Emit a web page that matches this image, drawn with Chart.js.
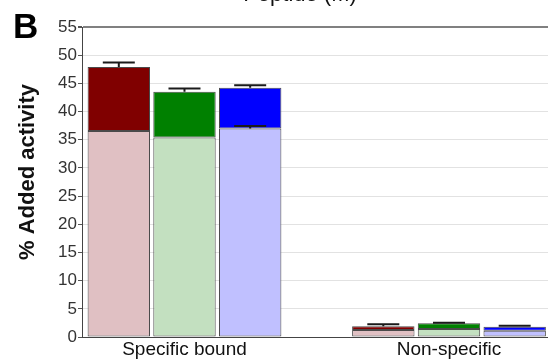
<!DOCTYPE html>
<html>
<head>
<meta charset="utf-8">
<script src="https://cdn.jsdelivr.net/npm/chart.js@4"></script>
<style>
  html, body { margin: 0; padding: 0; background: #fff; }
  #wrap { width: 548px; height: 359px; }
</style>
</head>
<body>
<div id="wrap"><canvas id="chart"></canvas></div>
<script>
// categories on the x axis, placed at positions 1 and 2
const categories = ['Specific bound', 'Non-specific'];
const xPositions = [1, 2];

// light (lower) part of each bar and full bar height, % added activity
const redLower   = [36.55, 1.24];
const redTotal   = [47.9, 1.9];
const greenLower = [35.4, 1.42];
const greenTotal = [43.5, 2.43];
const blueLower  = [37.0, 1.12];
const blueTotal  = [44.2, 1.83];

// top of the error bars (null = none shown)
const redErr        = [48.7, 2.25];
const greenErr      = [44.1, 2.55];
const blueErr       = [44.65, 2.0];
const blueLowerErr  = [37.45, null];

const yMin = 0, yMax = 55, yStep = 5;

const pts = vals => xPositions.map((x, i) => ({ x, y: vals[i] }));
const diff = (tot, low) => tot.map((v, i) => v - low[i]);

const bar = (vals, color, stack, err) => ({
  data: pts(vals),
  backgroundColor: color,
  borderColor: '#4a4a4a',
  borderWidth: 1,
  borderSkipped: false,
  stack,
  errorBars: err || null,
  categoryPercentage: 0.745,
  barPercentage: 0.95,
});

const datasets = [
  bar(redLower, '#e0c0c3', 'r'),
  bar(diff(redTotal, redLower), '#800000', 'r', redErr),
  bar(greenLower, '#c3e0c0', 'g'),
  bar(diff(greenTotal, greenLower), '#008000', 'g', greenErr),
  bar(blueLower, '#c0c0ff', 'b', blueLowerErr),
  bar(diff(blueTotal, blueLower), '#0000ff', 'b', blueErr),
];

// error bars on top of the stacked segments
const errorBarPlugin = {
  id: 'errorBars',
  afterDatasetsDraw(chart) {
    const ctx = chart.ctx;
    const y = chart.scales.y;
    ctx.save();
    ctx.strokeStyle = '#1a1a1a';
    ctx.lineWidth = 2;
    chart.data.datasets.forEach((ds, di) => {
      if (!ds.errorBars) return;
      const meta = chart.getDatasetMeta(di);
      meta.data.forEach((el, i) => {
        const v = ds.errorBars[i];
        if (v == null) return;
        const yt = y.getPixelForValue(v);
        const half = 16;
        ctx.beginPath();
        ctx.moveTo(el.x, el.y);
        ctx.lineTo(el.x, yt);
        ctx.moveTo(el.x - half, yt);
        ctx.lineTo(el.x + half, yt);
        ctx.stroke();
      });
    });
    ctx.restore();
  }
};

// panel letter, cut-off header and y axis title
const textPlugin = {
  id: 'panelText',
  afterDraw(chart) {
    const ctx = chart.ctx;
    ctx.save();
    ctx.fillStyle = '#000';
    ctx.font = 'bold 35px "Liberation Sans", Arial, sans-serif';
    ctx.textAlign = 'left';
    ctx.textBaseline = 'alphabetic';
    ctx.fillText('B', 13, 38);

    ctx.font = '22px "Liberation Sans", Arial, sans-serif';
    ctx.textAlign = 'center';
    ctx.fillStyle = '#111';
    ctx.fillText('Peptide (M)', 300, 1);

    ctx.translate(28, 172);
    ctx.rotate(-Math.PI / 2);
    ctx.font = 'bold 22px "Liberation Sans", Arial, sans-serif';
    ctx.textBaseline = 'middle';
    ctx.fillStyle = '#111';
    ctx.fillText('% Added activity', 0, 0);
    ctx.restore();
  }
};

new Chart(document.getElementById('chart'), {
  type: 'bar',
  data: { datasets },
  plugins: [errorBarPlugin, textPlugin],
  options: {
    responsive: true, maintainAspectRatio: false,
    animation: false,
    layout: { padding: { top: 27, left: 0, right: 0, bottom: 0 } },
    plugins: { legend: { display: false }, tooltip: { enabled: false }, title: { display: false } },
    scales: {
      x: {
        type: 'linear',
        offset: false,
        min: 0.6125,
        max: 2.3743,
        afterBuildTicks: s => { s.ticks = xPositions.map(v => ({ value: v })); },
        afterFit: s => { s.height = 22; },
        grid: { display: false, drawTicks: false },
        border: { display: true, color: '#444', width: 1 },
        ticks: {
          color: '#111',
          padding: 1,
          maxRotation: 0,
          autoSkip: false,
          font: { family: '"Liberation Sans", Arial, sans-serif', size: 19 },
          callback: v => categories[xPositions.indexOf(v)] || '',
        },
      },
      y: {
        stacked: true,
        min: yMin, max: yMax,
        afterFit: s => { s.width = 82; },
        grid: {
          color: c => c.tick && c.tick.value === yMax ? '#808080' : '#e2e2e2',
          lineWidth: c => c.tick && c.tick.value === yMax ? 2 : 1,
          tickLength: 4,
          tickColor: '#555',
        },
        border: { display: true, color: '#444', width: 1 },
        ticks: {
          stepSize: yStep,
          color: '#333',
          padding: 1,
          font: { family: '"Liberation Sans", Arial, sans-serif', size: 17 },
        },
      },
    },
  },
});
</script>
</body>
</html>
